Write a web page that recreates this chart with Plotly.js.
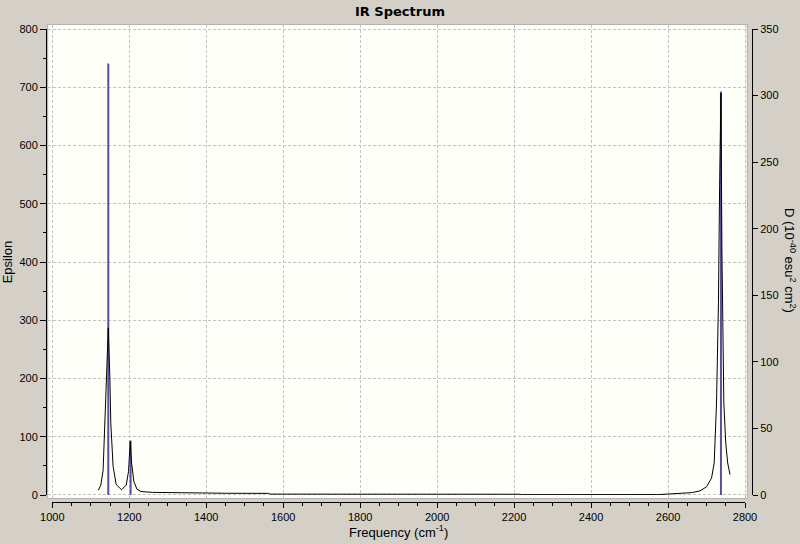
<!DOCTYPE html>
<html>
<head>
<meta charset="utf-8">
<script src="https://cdn.plot.ly/plotly-3.0.1.min.js"></script>
<style>
html,body{margin:0;padding:0;background:#d4d0c8;}
#chart{width:800px;height:544px;}
</style>
</head>
<body>
<div id="chart"></div>
<script>
// Computed IR stick spectrum (right axis, D in 10^-40 esu^2 cm^2)
const stickFreq = [1145.5, 1203.5, 2737.5];
const stickD = [324, 41, 303];

// Broadened spectrum (left axis, Epsilon)
const specFreq = [1119.5, 1126, 1132, 1137, 1141, 1145.5, 1149.5, 1152, 1158, 1166, 1180,
  1192, 1198, 1202.5, 1206, 1212, 1220, 1230, 1260, 1350, 1450, 1562, 1566,
  2215, 2220, 2575, 2590, 2610, 2640, 2661, 2683, 2700, 2713, 2720, 2726, 2731,
  2734, 2737.5, 2740, 2742, 2745, 2750, 2755, 2761];
const specEps = [8, 17, 42, 124, 203, 287, 203, 124, 49, 18, 9,
  17, 40, 92, 55, 23, 10, 6, 4.5, 3.5, 3, 2.8, 1.5,
  1.3, 0.6, 0.7, 1.5, 2.2, 3, 4, 7, 14, 29, 55, 158, 330,
  529, 690, 420, 266, 158, 89, 55, 35];

const xTickVals = [1000, 1200, 1400, 1600, 1800, 2000, 2200, 2400, 2600, 2800];
const epsTickVals = [0, 100, 200, 300, 400, 500, 600, 700, 800];
const dTickVals = [0, 50, 100, 150, 200, 250, 300, 350];

const stickX = [], stickY = [];
stickFreq.forEach((f, i) => { stickX.push(f, f, null); stickY.push(0, stickD[i], null); });

const tickFont = {family: '"Liberation Sans Narrow", "Liberation Sans", Arial, sans-serif', size: 11, color: '#000'};
const titleFont = {family: '"Liberation Sans", Arial, sans-serif', size: 13, color: '#000'};

const traces = [
  // registers the framed plotting area (grid + white background); carries no data
  {x: [], y: [], xaxis: 'x', yaxis: 'y', type: 'scatter', mode: 'lines', hoverinfo: 'skip', showlegend: false},
  {x: stickX, y: stickY, xaxis: 'x2', yaxis: 'y3', mode: 'lines',
   line: {color: '#5252a0', width: 2}, hoverinfo: 'skip', showlegend: false, connectgaps: false},
  {x: specFreq, y: specEps, xaxis: 'x2', yaxis: 'y2', mode: 'lines',
   line: {color: '#000000', width: 1}, showlegend: false}
];

const W = 800, H = 544;
const layout = {
  width: W, height: H, autosize: false,
  margin: {l: 0, r: 0, t: 0, b: 0, pad: 0},
  paper_bgcolor: '#d4d0c8',
  plot_bgcolor: 'rgba(0,0,0,0)',
  showlegend: false,
  title: {text: '<b>IR Spectrum</b>', x: 0.5, xref: 'paper', xanchor: 'center',
          y: 1 - 11 / H, yref: 'paper', yanchor: 'middle',
          font: {family: '"DejaVu Sans", Verdana, sans-serif', size: 13, color: '#000'}},
  // main grid/frame axes
  xaxis: {domain: [48.3 / W, 746.7 / W], range: [989.6, 2804.4], anchor: 'y',
          tickvals: xTickVals, showticklabels: false, ticks: '',
          showgrid: true, gridcolor: '#c4c4c4', griddash: '3px,2px', gridwidth: 1,
          zeroline: false, showline: true, mirror: true, linecolor: '#b4b4b4', linewidth: 1,
          fixedrange: true},
  yaxis: {domain: [1 - 498 / H, 1 - 25 / H], range: [-5.2, 806.9], anchor: 'x',
          tickvals: epsTickVals, showticklabels: false, ticks: '',
          showgrid: true, gridcolor: '#c4c4c4', griddash: '3px,2px', gridwidth: 1,
          zeroline: false, showline: true, mirror: true, linecolor: '#b4b4b4', linewidth: 1,
          fixedrange: true},
  // display frequency axis
  xaxis2: {domain: [52.3 / W, 745 / W], range: [1000, 2800], anchor: 'free', position: 1 - 502 / H,
           tickvals: xTickVals, ticks: 'outside', ticklen: 5, tickcolor: '#000', tickwidth: 1,
           minor: {dtick: 50, tick0: 1000, ticks: 'outside', ticklen: 3, tickcolor: '#000', showgrid: false},
           showline: true, linecolor: '#000', linewidth: 1, showgrid: false, zeroline: false,
           tickfont: tickFont,
           title: {text: 'Frequency (cm<sup>-1</sup>)', font: titleFont, standoff: 4},
           fixedrange: true},
  // display epsilon axis (left)
  yaxis2: {domain: [1 - 495 / H, 1 - 29 / H], range: [0, 800], anchor: 'free', position: 46 / W,
           side: 'left', overlaying: 'y3',
           tickvals: epsTickVals, ticks: 'outside', ticklen: 6, tickcolor: '#000', tickwidth: 1,
           minor: {dtick: 50, tick0: 0, ticks: 'outside', ticklen: 3, tickcolor: '#000', showgrid: false},
           showline: true, linecolor: '#000', linewidth: 1, showgrid: false, zeroline: false,
           tickfont: tickFont,
           title: {text: 'Epsilon', font: titleFont, standoff: 6},
           fixedrange: true},
  // display D axis (right)
  yaxis3: {domain: [1 - 495 / H, 1 - 29 / H], range: [0, 350], anchor: 'free', position: 752 / W,
           side: 'right',
           tickvals: dTickVals, ticks: 'outside', ticklen: 5, tickcolor: '#000', tickwidth: 1,
           showline: true, linecolor: '#000', linewidth: 1, showgrid: false, zeroline: false,
           tickfont: tickFont,
           fixedrange: true},
  shapes: [
    {type: 'rect', xref: 'x domain', yref: 'y domain', x0: 0, x1: 1, y0: 0, y1: 1,
     fillcolor: '#fffffa', line: {width: 0}, layer: 'below'}
  ],
  annotations: [
    {text: 'D (10<sup>-40</sup> esu<sup>2</sup> cm<sup>2</sup>)', xref: 'paper', yref: 'paper',
     x: 790 / W, y: 1 - 260 / H, xanchor: 'center', yanchor: 'middle', textangle: 90,
     showarrow: false, font: titleFont}
  ]
};

Plotly.newPlot('chart', traces, layout, {staticPlot: true, displayModeBar: false});
</script>
</body>
</html>
